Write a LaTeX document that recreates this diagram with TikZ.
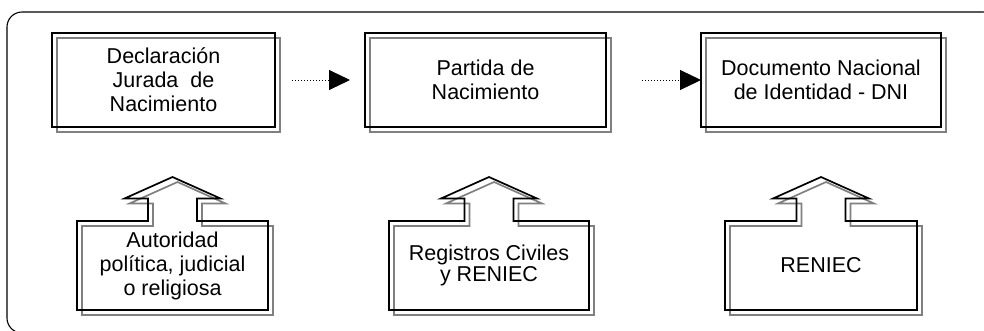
\documentclass[tikz,border=0pt]{standalone}
\usepackage{fontspec}
\setmainfont{Liberation Sans}
\usetikzlibrary{arrows.meta,backgrounds}
\tikzset{
  boxline/.style={draw=black,line width=1.7pt},
  shadowline/.style={draw=black!50,line width=1.7pt},
  flowbox/.style={boxline,rectangle,inner sep=0pt,outer sep=0pt,minimum height=94pt,align=center,
    font=\fontsize{21.5}{24}\selectfont},
  housebody/.style={rectangle,inner sep=0pt,outer sep=0pt,minimum height=89pt,align=center,
    font=\fontsize{21.5}{24}\selectfont},
  dotarrow/.style={line width=1pt,dash pattern=on 1pt off 2pt,-{Triangle[length=21pt,width=20pt]}},
  frameline/.style={draw=black,line width=1.1pt,rounded corners=15pt}
}
\newcommand\houseoutline[1]{([xshift=-24.5pt]#1.north) -- (#1.north west) -- (#1.south west) -- (#1.south east) -- (#1.north east) -- ([xshift=24.5pt]#1.north) -- ([xshift=24.5pt,yshift=22.5pt]#1.north) -- ([xshift=48pt,yshift=22.5pt]#1.north) -- ([yshift=44pt]#1.north) -- ([xshift=-48pt,yshift=22.5pt]#1.north) -- ([xshift=-24.5pt,yshift=22.5pt]#1.north) -- cycle}
\begin{document}
\begin{tikzpicture}[x=1pt,y=-1pt]
\useasboundingbox (0,0) rectangle (984,330);
\begin{scope}
\clip (0,0) rectangle (984,330);
\draw[frameline] (7,12) rectangle (998,333);
\end{scope}
% top boxes
\node[flowbox,minimum width=223pt] (b1) at (163.5,80) {Declaración\\Jurada~ de\\Nacimiento};
\node[flowbox,minimum width=241pt] (b2) at (485.5,80) {Partida de\\Nacimiento};
\node[flowbox,minimum width=240pt] (b3) at (821,80) {Documento Nacional\\de Identidad - DNI};
% bottom house shapes
\node[housebody,minimum width=191pt] (a1) at (172.5,265.5) {Autoridad\\política, judicial\\o religiosa};
\node[housebody,minimum width=200pt] (a2) at (489,265.5) {\raisebox{-6pt}{\shortstack{Registros Civiles\\[-1pt]y RENIEC}}};
\node[housebody,minimum width=192pt] (a3) at (821,265.5) {\raisebox{-2pt}{RENIEC}};
\begin{scope}[on background layer]
\begin{scope}[transform canvas={shift={(5pt,-5pt)}}]
\foreach \b in {b1,b2,b3}{
  \draw[shadowline] (\b.north west) rectangle (\b.south east);
}
\foreach \a in {a1,a2,a3}{
  \draw[shadowline] \houseoutline{\a};
}
\end{scope}
\end{scope}
\foreach \a in {a1,a2,a3}{
  \draw[boxline] \houseoutline{\a};
}
% connectors
\draw[dotarrow,shorten <=17pt,shorten >=15pt] (b1.east) -- (b2.west);
\draw[dotarrow,shorten <=36pt] (b2.east) -- (b3.west);
\end{tikzpicture}
\end{document}
